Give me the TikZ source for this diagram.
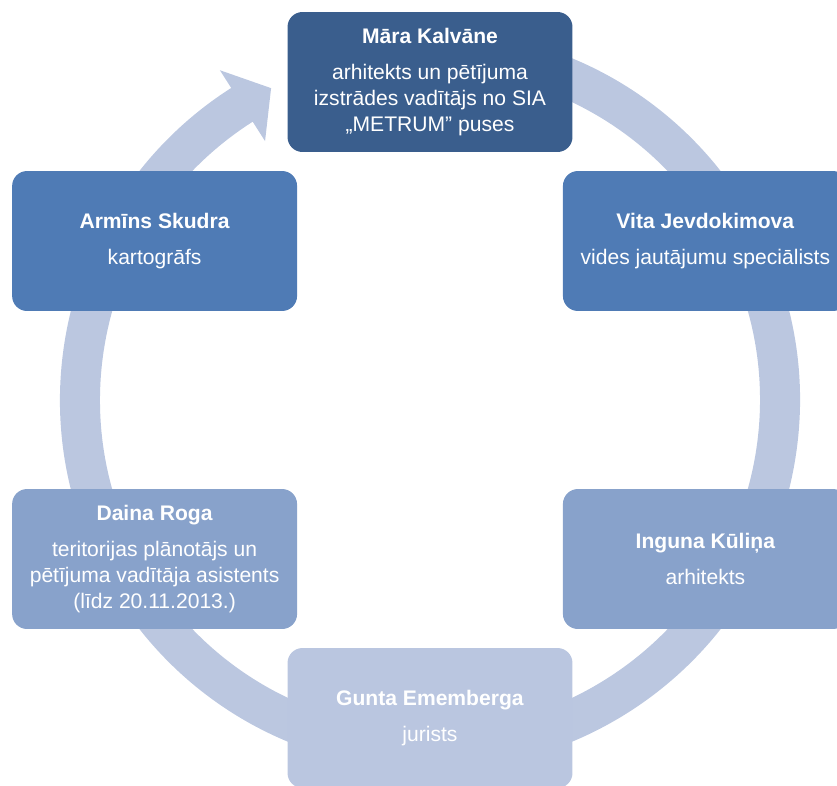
\documentclass[tikz,border=0pt]{standalone}
\usepackage{fontspec}
\setmainfont{Liberation Sans}
\definecolor{ringblue}{HTML}{BBC7E0}
\definecolor{shadeA}{HTML}{3A5E8D}
\definecolor{shadeB}{HTML}{4F7BB5}
\definecolor{shadeC}{HTML}{88A2CB}
\definecolor{shadeD}{HTML}{BAC6E0}

\begin{document}
\begin{tikzpicture}[x=0.02cm,y=0.02cm,
        member/.style={rounded corners=0.3cm, minimum width=5.7cm, minimum height=2.8cm,
            inner sep=0pt, text=white, align=center, font=\fontsize{12}{14.7}\selectfont}]
        \useasboundingbox (-430,-385) rectangle (407,400);
        % ring with the arrow head
        \fill[ringblue] (80:370) arc[start angle=80, end angle=-237.5, radius=370]
            -- (-237.5:391) -- (-243:350) -- (-237.5:307) -- (-237.5:330)
            arc[start angle=-237.5, end angle=80, radius=330] -- cycle;
        \node[member, fill=shadeA] (mara) at (90:318) {\textbf{Māra Kalvāne}\\[6pt]arhitekts un pētījuma\\izstrādes vadītājs no SIA\\„METRUM” puses};
        \node[member, fill=shadeB] (vita) at (30:318) {\textbf{Vita Jevdokimova}\\[6pt]vides jautājumu speciālists};
        \node[member, fill=shadeC] (inguna) at (-30:318) {\textbf{Inguna Kūliņa}\\[6pt]arhitekts};
        \node[member, fill=shadeD] (gunta) at (-90:318) {\textbf{Gunta Ememberga}\\[6pt]jurists};
        \node[member, fill=shadeC] (daina) at (-150:318) {\textbf{Daina Roga}\\[6pt]teritorijas plānotājs un\\pētījuma vadītāja asistents\\(līdz 20.11.2013.)};
        \node[member, fill=shadeB] (armins) at (150:318) {\textbf{Armīns Skudra}\\[6pt]kartogrāfs};
    \end{tikzpicture}
\end{document}
